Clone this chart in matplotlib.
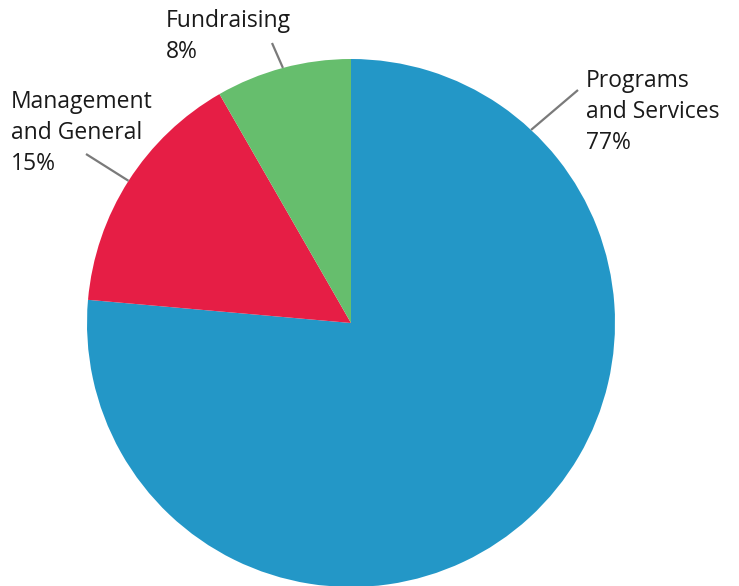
import numpy as np
import matplotlib
matplotlib.use("Agg")
import matplotlib.pyplot as plt

# data
labels = ["Programs\nand Services", "Management\nand General", "Fundraising"]
shares = [76.4, 15.3, 8.3]
pct_labels = ["77%", "15%", "8%"]
colors = ["#2397C7", "#E61E45", "#66BE6D"]

W, H = 739, 586
plt.rcParams['font.family'] = ['Open Sans', 'DejaVu Sans']

fig = plt.figure(figsize=(W / 100, H / 100), dpi=100)
ax = fig.add_axes([0, 0, 1, 1])

cx, cy, r = 351, H - 323, 264
wedges, _ = ax.pie(shares, colors=colors, startangle=90, counterclock=False,
                   center=(cx, cy), radius=r, frame=True,
                   wedgeprops=dict(linewidth=0))
ax.set_xlim(0, W)
ax.set_ylim(0, H)
ax.axis('off')

# leader line anchor angle on the rim, line end, text top-left (pixel coords)
anchor_angle = [47.0, None, None]
line_end = [(578, 90), (86, 154), (272, 43)]
text_pos = [(586, 69), (11, 90), (166, 9)]

for i, w in enumerate(wedges):
    ang = anchor_angle[i]
    if ang is None:
        ang = (w.theta1 + w.theta2) / 2
    a = np.deg2rad(ang)
    x0, y0 = cx + r * np.cos(a), cy + r * np.sin(a)
    ex, ey = line_end[i]
    ax.plot([x0, ex], [y0, H - ey], color="#7a7a7a", lw=1.6,
            solid_capstyle='butt', zorder=5)
    tx, ty = text_pos[i]
    ax.text(tx, H - ty, labels[i] + "\n" + pct_labels[i], ha='left', va='top',
            fontsize=16.5, color="#1a1a1a", linespacing=1.38)

fig.savefig("out.png", dpi=100)
